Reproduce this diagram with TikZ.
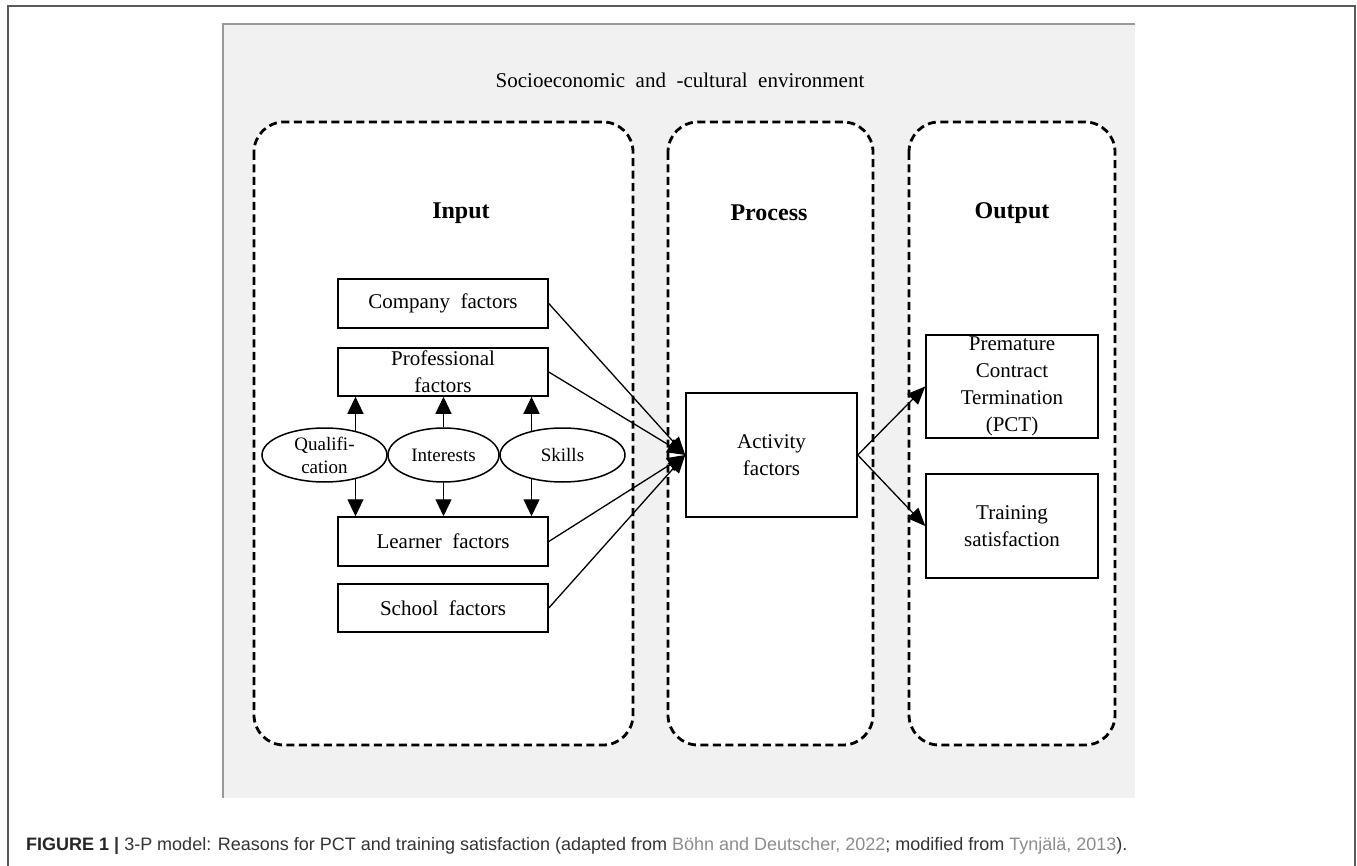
\documentclass[tikz,border=0pt]{standalone}
\usepackage{fontspec}
\setmainfont{Liberation Serif}
\newfontfamily\capfont{Liberation Sans}
\usetikzlibrary{arrows.meta,shapes.geometric}
\definecolor{panelgray}{HTML}{F1F1F1}
\definecolor{panelline}{HTML}{9A9A9A}
\definecolor{framegray}{HTML}{5A5A5A}
\definecolor{captext}{HTML}{333333}
\definecolor{capref}{HTML}{8C8C8C}
\newcommand\wideskip{\spaceskip=0.5em\relax}
\tikzset{
  bodyfont/.style={font=\fontsize{21}{27}\selectfont, execute at begin node=\wideskip},
  ellfont/.style={font=\fontsize{19}{23}\selectfont},
  headfont/.style={font=\fontsize{24}{28}\selectfont\bfseries},
  factorbox/.style={draw, line width=1.5pt, fill=white, rectangle, inner sep=0pt, align=center, bodyfont},
  ellnode/.style={draw, line width=1.5pt, fill=white, ellipse, inner sep=0pt, align=center, ellfont},
  dashbox/.style={draw, line width=2.8pt, dash pattern=on 8pt off 4.5pt, rounded corners=30pt, fill=white},
  arr/.style={line width=1.3pt, -{Triangle[length=17pt,width=16pt]}},
  conn/.style={line width=1.3pt, -{Triangle[length=18pt,width=15pt]}},
}
\begin{document}
\begin{tikzpicture}[x=1pt,y=-1pt]
\useasboundingbox (0,0) rectangle (1357,866);
% outer frame
\draw[framegray, line width=1.3pt] (8,866) -- (8,6) -- (1355,6) -- (1355,866);
% panel
\fill[panelgray] (223,24) rectangle (1135,798);
\draw[panelline, line width=1.5pt] (223,798) -- (223,24) -- (1135,24);
\node[bodyfont, anchor=center] (env) at (680,80) {Socioeconomic and -cultural environment};
% dashed groups
\draw[dashbox] (254,122) rectangle (633,745);
\draw[dashbox] (668,122) rectangle (873,745);
\draw[dashbox] (909,122) rectangle (1115,745);
\node[headfont] (input) at (461,213) {Input};
\node[headfont] (process) at (769,213) {Process};
\node[headfont] (output) at (1012,213) {Output};
% input boxes
\node[factorbox, minimum width=210pt, minimum height=49pt] (comp) at (443,303.5) {Company factors};
\node[factorbox, minimum width=210pt, minimum height=48pt] (prof) at (443,372) {Professional\\factors};
\node[factorbox, minimum width=210pt, minimum height=49pt] (learn) at (443,541.5) {Learner factors};
\node[factorbox, minimum width=210pt, minimum height=48pt] (school) at (443,608) {School factors};
% ellipses
\node[ellnode, minimum width=125pt, minimum height=54pt] (qual) at (324.5,455) {Qualifi-\\cation};
\node[ellnode, minimum width=111pt, minimum height=54pt] (inter) at (443.5,455) {Interests};
\node[ellnode, minimum width=125pt, minimum height=54pt] (skill) at (562.5,455) {Skills};
% process / output boxes
\node[factorbox, minimum width=171pt, minimum height=124pt] (act) at (771.5,455) {Activity\\factors};
\node[factorbox, minimum width=172pt, minimum height=103pt] (pct) at (1012,386.5) {Premature\\Contract\\Termination\\(PCT)};
\node[factorbox, minimum width=172pt, minimum height=104pt] (train) at (1012,526) {Training\\satisfaction};
% vertical arrows
\draw[arr] (qual.38) -- (qual.38 |- prof.south);
\draw[arr] (inter.north) -- (inter.north |- prof.south);
\draw[arr] (skill.142) -- (skill.142 |- prof.south);
\draw[arr] (qual.-38) -- (qual.-38 |- learn.north);
\draw[arr] (inter.south) -- (inter.south |- learn.north);
\draw[arr] (skill.-142) -- (skill.-142 |- learn.north);
% connectors into activity
\draw[conn] (comp.east) -- (act.west);
\draw[conn] (prof.east) -- (act.west);
\draw[conn] (learn.east) -- (act.west);
\draw[conn] (school.east) -- (act.west);
% connectors out of activity
\draw[conn] (act.east) -- (pct.west);
\draw[conn] (act.east) -- (train.west);
% caption
\node[anchor=base west, inner sep=0pt, font=\capfont\fontsize{18}{21}\selectfont, text=captext] (cap) at (26,850)
  {\textbf{\color{black!85}FIGURE 1} \textbf{|} 3-P model: Reasons for PCT and training satisfaction (adapted from \textcolor{capref}{Böhn and Deutscher, 2022}; modified from \textcolor{capref}{Tynjälä, 2013}).};
\end{tikzpicture}
\end{document}
